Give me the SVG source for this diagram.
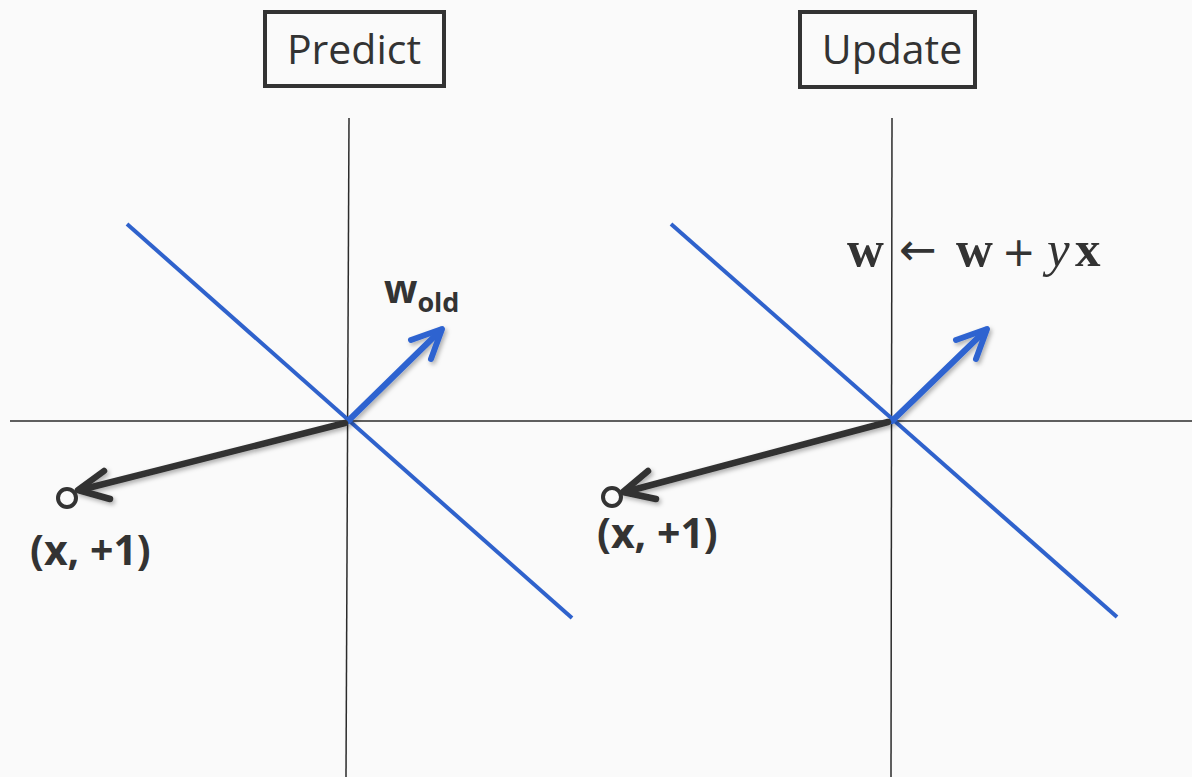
<svg xmlns="http://www.w3.org/2000/svg" width="1192" height="777" viewBox="0 0 1192 777">
<defs>
<style>
.axis{stroke:#2b2b2b;stroke-width:1.5;fill:none}
.sep{stroke:#2f62cc;stroke-width:4;fill:none}
.wvec{stroke:#2f64d0;stroke-width:6;fill:none;stroke-linecap:round;stroke-linejoin:round}
.xvec{stroke:#333;stroke-width:6.5;fill:none;stroke-linecap:round;stroke-linejoin:round}
.pt{fill:#fafafa;stroke:#333;stroke-width:4}
.box{fill:#fafafa;stroke:#333;stroke-width:4}
.title{font-family:'Open Sans','Liberation Sans',sans-serif;font-size:41px;fill:#333;text-anchor:middle}
.lbl{font-family:'Open Sans','Liberation Sans',sans-serif;font-weight:bold;fill:#333}
.math{font-family:'Liberation Serif','DejaVu Serif',serif;font-size:51px;fill:#333}
.sym{font-family:'DejaVu Sans',sans-serif;fill:#333}
</style>
<filter id="sh" x="-20%" y="-20%" width="140%" height="140%">
<feDropShadow dx="2" dy="2.5" stdDeviation="2" flood-color="#000" flood-opacity="0.3"/>
</filter>
</defs>
<rect width="1192" height="777" fill="#fafafa"/>

<g id="axes">
<line class="axis" x1="349" y1="118" x2="346" y2="777"/>
<line class="axis" x1="892" y1="118" x2="891" y2="777"/>
<line class="axis" x1="10" y1="421" x2="1192" y2="421"/>
</g>

<g id="predict-box">
<rect class="box" x="265" y="12" width="179" height="74"/>
<text class="title" x="354" y="64">Predict</text>
</g>
<g id="update-box">
<rect class="box" x="800" y="12" width="175" height="75"/>
<text class="title" x="892" y="64">Update</text>
</g>

<g id="separators">
<line class="sep" x1="127" y1="224" x2="572" y2="618"/>
<line class="sep" x1="671" y1="224" x2="1117" y2="617"/>
</g>

<g id="connectors">
<g filter="url(#sh)">
<polyline class="wvec" points="348,421 441,330"/>
<polyline class="wvec" points="411,340 442,329 431,359"/>
<polyline class="wvec" points="892,421 986,330"/>
<polyline class="wvec" points="956,340 987,329 976,359"/>
<polyline class="xvec" points="345,423 80,490"/>
<polyline class="xvec" points="104,471 78,490 110,499"/>
<polyline class="xvec" points="888,422 625,492"/>
<polyline class="xvec" points="648,471 623,492 656,499"/>
</g>
</g>

<g id="point-predict">
<circle class="pt" cx="67" cy="498" r="9"/>
<text class="lbl" x="30" y="565" font-size="41">(x, +1)</text>
</g>
<g id="point-update">
<circle class="pt" cx="612" cy="497" r="9"/>
<text class="lbl" x="597" y="548" font-size="41">(x, +1)</text>
</g>

<g id="w-old-label">
<text class="lbl" x="384" y="303" font-size="39">w<tspan font-size="27" dy="9">old</tspan></text>
</g>

<g id="update-rule">
<text class="math" x="847" y="266" font-weight="bold">w</text>
<text class="sym" x="899" y="265" font-size="45">←</text>
<text class="math" x="956" y="266" font-weight="bold">w</text>
<text class="sym" x="1002" y="266" font-size="40">+</text>
<text class="math" x="1047" y="266" font-style="italic">y</text>
<text class="math" x="1075" y="266" font-weight="bold">x</text>
</g>
</svg>
